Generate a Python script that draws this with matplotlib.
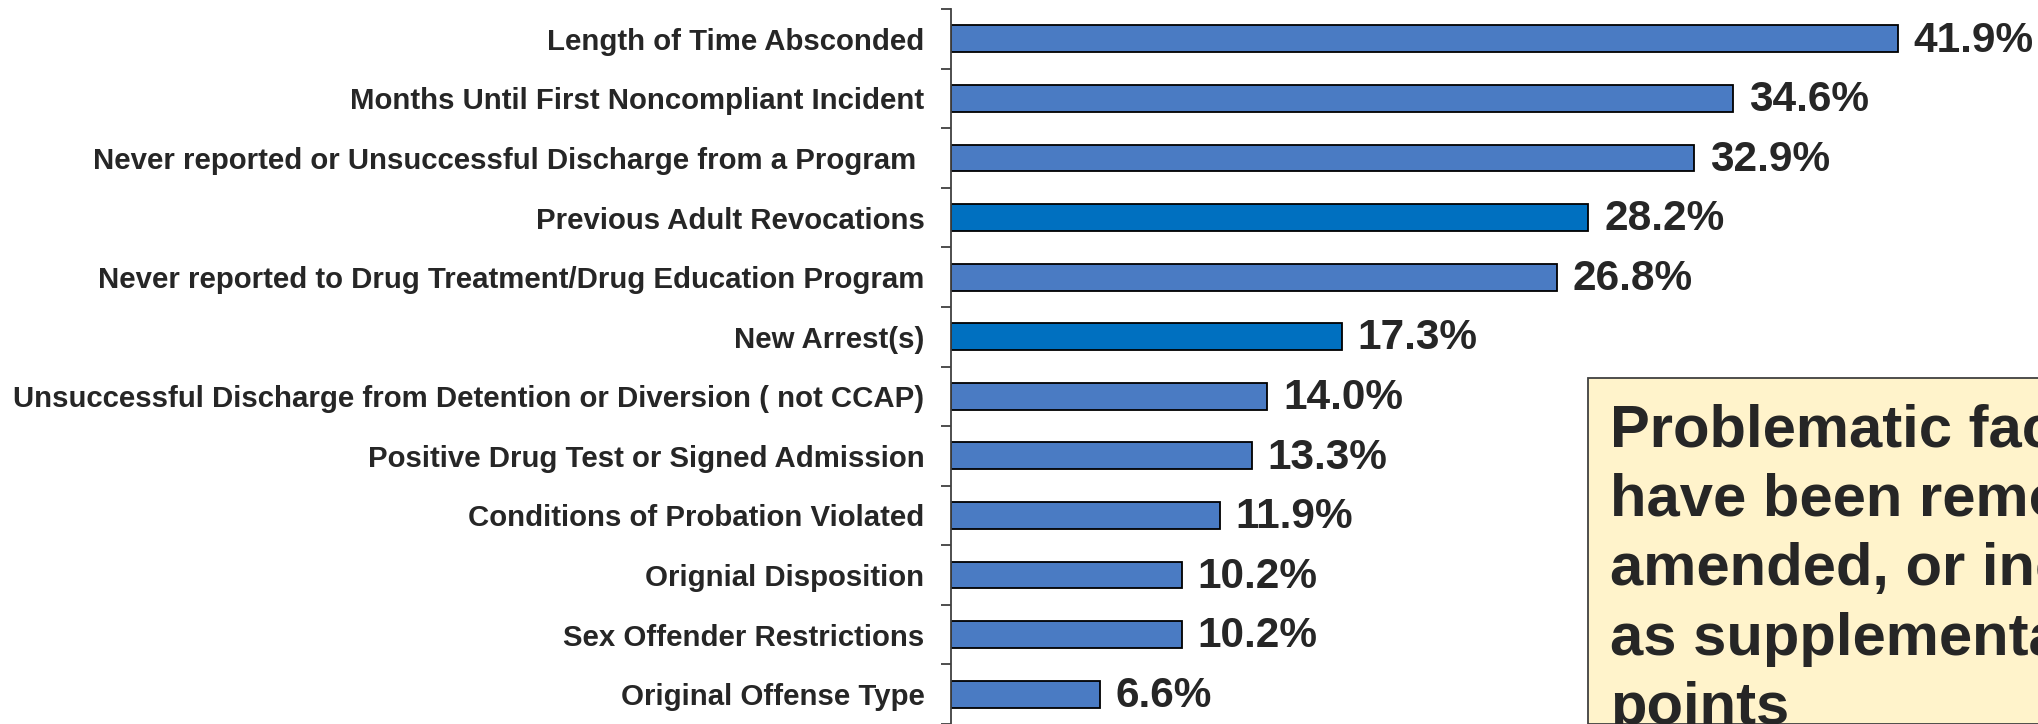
import numpy as np
import matplotlib.pyplot as plt
import matplotlib.patches as mpatches

plt.rcParams['font.family'] = ['Liberation Sans', 'DejaVu Sans']

# Фактори та відсотки
factors = ["Length of Time Absconded",
           "Months Until First Noncompliant Incident",
           "Never reported or Unsuccessful Discharge from a Program ",
           "Previous Adult Revocations",
           "Never reported to Drug Treatment/Drug Education Program",
           "New Arrest(s)",
           "Unsuccessful Discharge from Detention or Diversion ( not CCAP)",
           "Positive Drug Test or Signed Admission",
           "Conditions of Probation Violated",
           "Orignial Disposition",
           "Sex Offender Restrictions",
           "Original Offense Type"]
values = [41.9, 34.6, 32.9, 28.2, 26.8, 17.3, 14.0, 13.3, 11.9, 10.2, 10.2, 6.6]
highlight = ["Previous Adult Revocations", "New Arrest(s)"]

note = "Problematic factors\nhave been removed,\namended, or included\nas supplemental\npoints"

text_col = '#262626'
colors = ['#0070c0' if f in highlight else '#4a7bc3' for f in factors]

fig = plt.figure(figsize=(20.38, 7.24), dpi=100)
ax = fig.add_axes([951 / 2038, 0, 1 - 951 / 2038, 1 - 9 / 724])

y = np.arange(len(factors))
ax.barh(y, values, height=0.45, color=colors, edgecolor='black', linewidth=1.3)

for yi, v in zip(y, values):
    ax.text(v + 0.7, yi + 0.03, f"{v:.1f}%", va='center', ha='left',
            fontsize=30.5, fontweight='bold', color=text_col)

ax.set_xlim(0, 48.1)
ax.set_ylim(11.45, -0.5)
ax.set_yticks(y)
ax.set_yticklabels(factors, fontsize=21.2, fontweight='bold', color=text_col)
ax.set_yticks(np.arange(-0.5, len(factors), 1), minor=True)
ax.tick_params(axis='y', which='major', length=0, pad=19)
ax.tick_params(axis='y', which='minor', length=7, width=1.3, color='#404040')
ax.set_xticks([])
for s in ['top', 'right', 'bottom']:
    ax.spines[s].set_visible(False)
ax.spines['left'].set_color('#404040')
ax.spines['left'].set_linewidth(1.3)

# Примітка
box = mpatches.Rectangle((1588 / 2038, 0), 1, 1 - 378 / 724,
                         transform=fig.transFigure, facecolor='#fff3cb',
                         edgecolor='#404040', linewidth=1.3, zorder=5)
fig.patches.append(box)
fig.text(1610 / 2038, 1 - 403 / 724, note, ha='left', va='top',
         fontsize=43, fontweight='bold', color=text_col,
         linespacing=1.34, zorder=6)

fig.savefig('out.png', dpi=100)
